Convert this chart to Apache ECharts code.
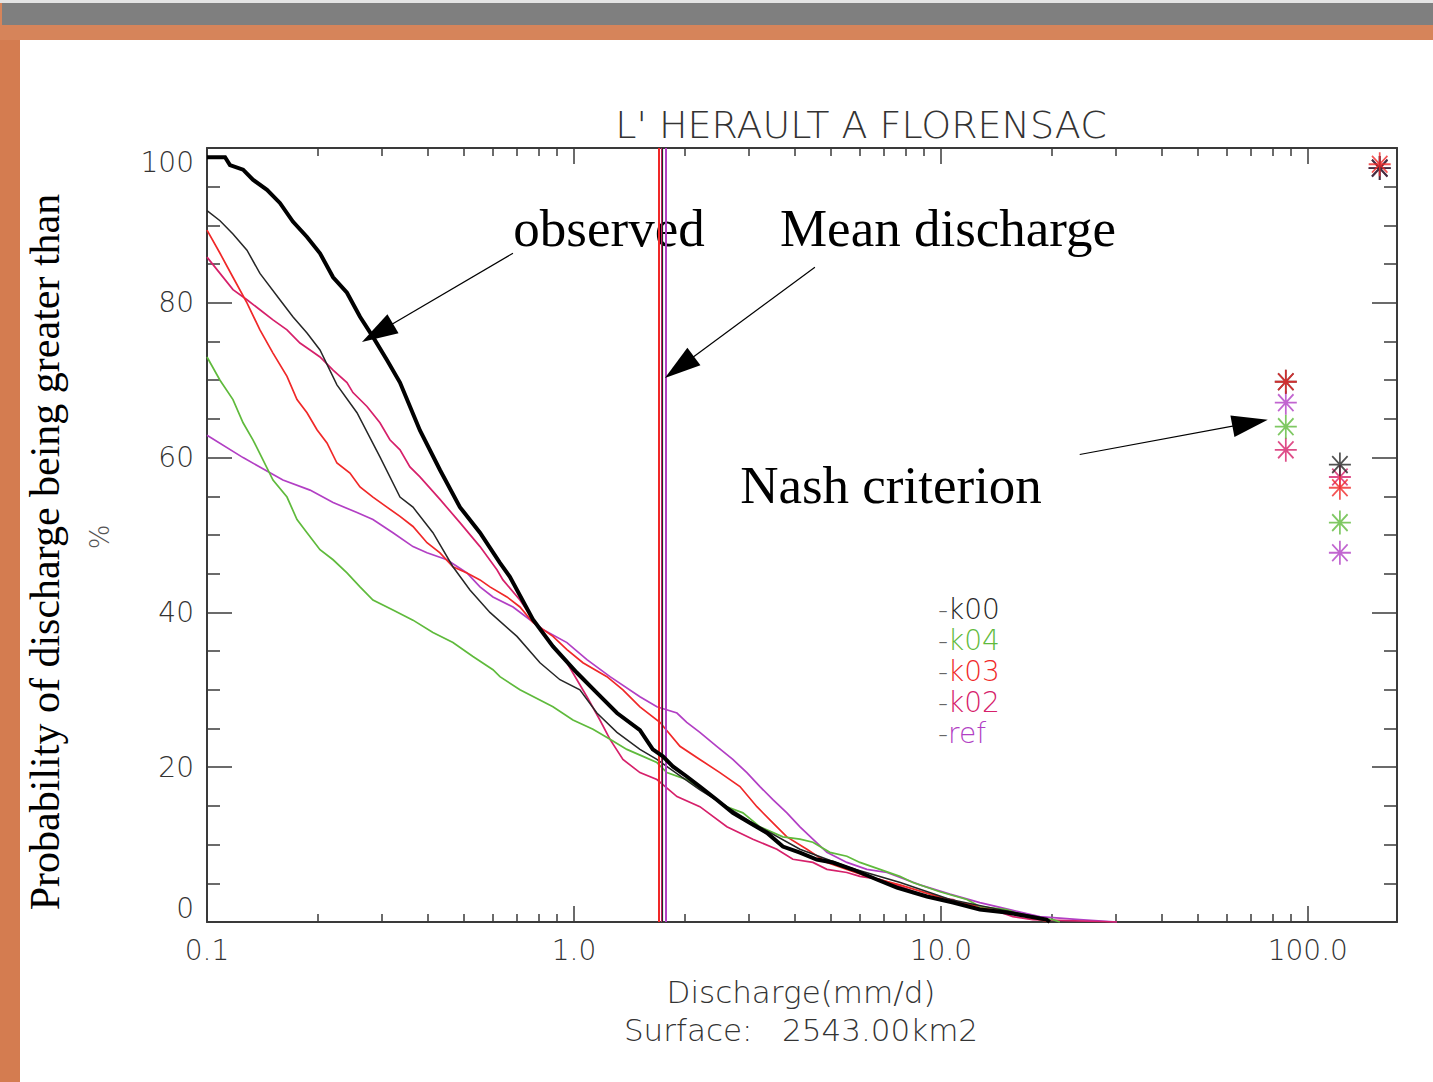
<!DOCTYPE html>
<html><head><meta charset="utf-8">
<script src="https://cdn.jsdelivr.net/npm/echarts@6/dist/echarts.min.js"></script>
<style>html,body{margin:0;padding:0;background:#fff}#main{width:1433px;height:1082px}</style>
</head><body><div id="main"></div><script>
// ---------- data (discharge in mm/d, probability in %) ----------
const obsQ = [0.1,0.112,0.1155,0.1254,0.1334,0.1457,0.158,0.1714,0.1873,0.2032,0.2206,0.2407,0.2612,0.2833,0.3093,0.3357,0.3805,0.4315,0.489,0.5546,0.6285,0.669,0.773,0.8766,1.019,1.155,1.31,1.513,1.64,1.747,1.86,2.03,2.204,2.45,2.71,3.02,3.36,3.71,4.13,4.59,5.08,5.76,6.69,7.59,9.16,10.8,12.77,15.1,19.4,19.8];
const obsP = [98.8,98.8,97.8,97.2,95.9,94.6,92.9,90.5,88.5,86.4,83.3,81.3,78.2,75.6,72.6,69.7,63.5,58.4,53.6,50.3,46.4,44.6,39.1,35.6,32.2,29.6,27.0,24.8,22.3,21.4,20.1,18.8,17.5,15.8,14.1,12.8,11.5,9.75,8.97,8.07,7.68,6.78,5.49,4.45,3.29,2.52,1.61,1.23,0.32,0];

const k00Q = [0.1,0.1085,0.1177,0.1285,0.1394,0.158,0.1714,0.1873,0.2032,0.226,0.2563,0.296,0.3357,0.3642,0.4128,0.468,0.5207,0.5903,0.6994,0.808,0.916,1.038,1.155,1.31,1.513,1.683,2.2,3.02,4.13,5.65,7.75,10.6,14.5,18.6,19.8];
const k00P = [91.9,90.6,88.9,86.8,83.8,80.4,78.2,76.1,73.9,69.4,65.8,60.1,54.9,53.6,50.3,45.9,42.9,40.0,36.9,33.5,31.3,30.0,27.0,24.5,22.3,21.0,17.1,13.0,9.4,7.0,5.1,2.9,1.6,0.6,0];

const k04Q = [0.1,0.1085,0.1177,0.1254,0.1334,0.1421,0.1513,0.1652,0.1759,0.1873,0.2032,0.2206,0.2407,0.2612,0.2833,0.3212,0.3642,0.4128,0.468,0.5306,0.6016,0.6285,0.7126,0.8766,0.9937,1.127,1.254,1.394,1.542,1.683,1.792,2.03,2.303,2.611,2.887,3.213,3.71,4.13,4.479,4.983,5.544,6.016,6.82,7.73,8.39,9.94,11.77,12.77,15.1,17.15,20.2,21.1];
const k04P = [73.0,70.0,67.5,64.5,62.3,59.7,57.1,54.9,52.0,50.3,48.1,46.8,45.1,43.3,41.6,40.3,39.0,37.4,36.1,34.3,32.6,31.7,30.0,27.8,26.1,24.9,23.6,22.3,21.4,20.6,19.3,18.4,16.7,14.9,14.1,12.3,11.0,10.7,10.3,9.0,8.5,7.7,6.8,5.9,5.1,3.9,2.9,2.0,1.6,0.7,0.3,0];

const k03Q = [0.1,0.1085,0.1177,0.1285,0.1394,0.1513,0.1652,0.1759,0.1873,0.1994,0.2123,0.226,0.2452,0.2612,0.2833,0.3093,0.3357,0.3642,0.3977,0.4315,0.468,0.511,0.5546,0.5903,0.6567,0.7126,0.773,0.8766,0.957,1.058,1.23,1.36,1.513,1.715,1.945,2.204,2.499,2.834,3.152,3.485,3.805,4.314,4.891,5.544,6.286,7.73,9.33,11.27,14.5,18.6,19.8];
const k03P = [89.4,86.4,83.3,80.0,76.5,73.5,70.5,67.5,65.8,63.6,61.9,59.3,58.0,56.2,54.9,53.6,52.4,51.1,49.0,47.7,45.9,45.1,44.2,43.3,42.0,40.7,38.7,36.9,35.2,33.5,31.7,30.0,27.8,25.8,22.7,21.0,19.3,17.5,14.9,12.8,11.0,9.4,7.7,6.8,5.9,4.8,3.6,2.5,1.5,0.3,0];

const k02Q = [0.1,0.1085,0.1177,0.1285,0.1394,0.1513,0.1652,0.1792,0.1909,0.2032,0.2206,0.2407,0.2499,0.2729,0.296,0.3151,0.3357,0.3573,0.3805,0.4315,0.489,0.5546,0.6168,0.6405,0.7126,0.808,0.957,1.085,1.177,1.254,1.36,1.513,1.683,1.909,2.204,2.611,3.074,3.573,3.951,4.479,4.891,5.544,6.016,6.82,7.73,9.16,10.8,11.77,13.86,15.71,17.81,30.2];
const k02P = [85.9,83.8,81.7,80.4,79.1,77.8,76.5,74.8,73.9,73.0,71.3,69.7,68.4,66.6,64.5,62.3,61.0,58.8,57.5,54.6,51.6,48.5,45.5,44.2,41.6,37.8,33.5,29.1,26.1,23.6,21.0,19.3,18.4,16.2,14.9,12.3,10.7,9.4,8.1,7.7,6.8,6.4,5.9,5.5,4.6,3.3,2.9,2.0,1.6,0.7,0.3,0];

const refQ = [0.1,0.1254,0.161,0.1909,0.2206,0.2563,0.2833,0.3212,0.3642,0.3977,0.4508,0.511,0.5546,0.6016,0.6823,0.823,0.957,1.085,1.254,1.513,1.683,1.909,2.03,2.204,2.45,2.71,2.96,3.213,3.485,3.805,4.13,4.479,4.891,5.544,6.286,7.13,8.77,10.58,12.77,15.4,18.6,23.9,30.2];
const refP = [62.9,60.0,57.1,55.8,54.2,52.9,52.0,50.3,48.5,47.7,46.8,45.1,43.3,42.0,40.7,37.8,36.1,33.9,31.7,29.1,27.8,27.0,25.8,24.5,22.7,21.0,19.3,17.5,15.8,14.1,12.3,10.7,9.0,7.7,6.8,6.4,4.8,3.6,2.5,1.6,0.7,0.3,0];

// mean discharge (vertical lines)
const meanNames = ['k03','k02','k00','ref'];
const meanQ = [1.708,1.722,1.755,1.792];

// Nash criterion markers: three columns
const nashQ = [87.1,122.3,157];
const nashK00 = [69.8,59.1,97.4];
const nashK04 = [64.0,51.6,97.4];
const nashK03 = [69.8,56.1,97.9];
const nashK02 = [61.0,57.5,97.4];
const nashRef = [67.1,47.7,97.4];

// axis ticks
const xMajor = [0.1,1,10,100];
const xMinor = [0.2,0.3,0.4,0.5,0.6,0.7,0.8,0.9,2,3,4,5,6,7,8,9,20,30,40,50,60,70,80,90];
const xMax = 175;

// annotation arrows: [fromQ, fromP, tipQ, tipP]
const arrowObserved = [0.682,86.4,0.2644,74.95];
const arrowMean = [4.536,84.6,1.770,70.3];
const arrowNash = [23.9,60.4,77.8,64.9];

// ---------- build ----------
const L = Math.log10;
const COLORS = {obs:'#000000', k00:'#262626', k04:'#5fba3c', k03:'#f02828', k02:'#d6206a', ref:'#b23fc4'};
const AX = '#3a3a3a';
const HFONT = '"DejaVu Sans"';
const LABEL_FONT = {fontFamily:HFONT, fontWeight:200, fontSize:28, color:'#333'};

function pts(q,p){ return q.map((v,i)=>[L(v), p[i]]); }

function xAxis(pos, ticks, len, showLine, showLabel){
  return {
    type:'value', position:pos, min:-1, max:L(xMax), gridIndex:0,
    axisLine:{show:showLine, onZero:false, lineStyle:{color:AX, width:2}},
    axisTick:{show:true, inside:true, length:len, customValues:ticks.map(L), lineStyle:{color:AX, width:1.5}},
    axisLabel:Object.assign({show:showLabel, customValues:ticks.map(L), margin:14,
      formatter:v=>Math.pow(10,v).toFixed(1)}, LABEL_FONT),
    splitLine:{show:false}, minorTick:{show:false}
  };
}
function yAxis(pos, showLabel){
  return {
    type:'value', position:pos, min:0, max:100, interval:20, gridIndex:0,
    axisLine:{show:true, onZero:false, lineStyle:{color:AX, width:2}},
    axisTick:{show:true, inside:true, length:25, lineStyle:{color:AX, width:1.5}},
    minorTick:{show:true, splitNumber:4, length:13, lineStyle:{color:AX, width:1.5}},
    axisLabel:Object.assign({show:showLabel, margin:13, verticalAlignMinLabel:'bottom', verticalAlignMaxLabel:'top'}, LABEL_FONT),
    splitLine:{show:false}
  };
}

function meanLine(name){
  const i = meanNames.indexOf(name);
  if (i < 0) return undefined;
  return {silent:true, symbol:['none','none'], label:{show:false},
    lineStyle:{type:'solid', width:name==='k00'?1.2:2, color:COLORS[name]},
    data:[{xAxis:L(meanQ[i])}]};
}

function curve(name, q, p, width){
  return {name, type:'line', xAxisIndex:0, yAxisIndex:0, data:pts(q,p),
    showSymbol:false, symbol:'none', animation:false,
    lineStyle:{color:COLORS[name], width:width, join:'miter'}, itemStyle:{color:COLORS[name]},
    markLine:meanLine(name), z:name==='obs'?5:3};
}

const ASTER = 'path://M10,0L10,20M0,10L20,10M3,3L17,17M3,17L17,3';
function nash(name, vals){
  return {name:name+' nash', type:'scatter', xAxisIndex:0, yAxisIndex:0,
    data:nashQ.map((q,i)=>[L(q), vals[i]]), symbol:ASTER, symbolSize:[22,24],
    itemStyle:{color:COLORS[name], borderColor:COLORS[name], borderWidth:1.8}, animation:false, z:6};
}

const series = [
  curve('ref', refQ, refP, 1.7),
  curve('k02', k02Q, k02P, 1.7),
  curve('k03', k03Q, k03P, 1.7),
  curve('k04', k04Q, k04P, 1.7),
  curve('k00', k00Q, k00P, 1.5),
  curve('obs', obsQ, obsP, 4),
  nash('k02', nashK02), nash('k04', nashK04), nash('ref', nashRef), nash('k00', nashK00), nash('k03', nashK03),
  {name:'arrows', type:'line', data:[], xAxisIndex:0, yAxisIndex:0, animation:false,
   markLine:{silent:true, symbol:['none','triangle'], symbolSize:[22,36], label:{show:false},
     lineStyle:{type:'solid', color:'#000', width:1.2}, itemStyle:{color:'#000'}, data:[]}}
];

const legendItems = [['k00',609],['k04',640],['k03',671],['k02',702],['ref',733]];

function txt(x, y, text, font, fill, rot){
  const e = {type:'text', x:x, y:y, silent:true, style:{text:text, font:font, fill:fill,
    align:'center', verticalAlign:'middle', textAlign:'center', textVerticalAlign:'middle'}};
  if (rot) e.rotation = rot;
  return e;
}

const graphic = [
  {type:'rect', shape:{x:0,y:0,width:1433,height:3}, style:{fill:'#e4e4e4'}, silent:true},
  {type:'rect', shape:{x:2,y:3,width:1431,height:22}, style:{fill:'#7f7f7f'}, silent:true},
  {type:'rect', shape:{x:0,y:3,width:2,height:22}, style:{fill:'#d6845a'}, silent:true},
  {type:'rect', shape:{x:0,y:25,width:1433,height:15}, style:{fill:'#d6845a'}, silent:true},
  {type:'rect', shape:{x:0,y:40,width:20,height:1042}, style:{fill:'#d47c50'}, silent:true},
  txt(861, 125, "L' HERAULT A FLORENSAC", '200 38px '+HFONT, '#333'),
  txt(801, 992, 'Discharge(mm/d)', '200 31px '+HFONT, '#333'),
  txt(801, 1030, 'Surface:   2543.00km2', '200 31px '+HFONT, '#333'),
  txt(100, 537, '%', '200 26px '+HFONT, '#555', Math.PI/2),
  txt(45, 552, 'Probability of discharge being greater than', '42px "Liberation Serif"', '#000', Math.PI/2),
  txt(609, 228, 'observed', '53px "Liberation Serif"', '#000'),
  txt(948, 228, 'Mean discharge', '53px "Liberation Serif"', '#000'),
  txt(891, 485, 'Nash criterion', '53px "Liberation Serif"', '#000')
].concat(legendItems.map(([n,y])=>({type:'text', x:938, y:y, silent:true,
  style:{text:'{d|-}{n|'+n+'}', align:'left', verticalAlign:'middle', textAlign:'left', textVerticalAlign:'middle',
    rich:{d:{fontFamily:HFONT, fontWeight:200, fontSize:28, fill:'#666', color:'#666'},
          n:{fontFamily:HFONT, fontWeight:200, fontSize:28, fill:COLORS[n], color:COLORS[n]}}}})));

const option = {
  backgroundColor:'#ffffff',
  animation:false,
  grid:{left:207, right:36, top:148, bottom:160, containLabel:false},
  xAxis:[xAxis('bottom', xMajor, 16, true, true), xAxis('bottom', xMinor, 8, false, false),
         xAxis('top', xMajor, 16, true, false), xAxis('top', xMinor, 8, false, false)],
  yAxis:[yAxis('left', true), yAxis('right', false)],
  series:series,
  graphic:graphic
};

const chart = echarts.init(document.getElementById('main'), null, {renderer:'svg'});
chart.setOption(option);

// arrows: place the triangle so that its tip lands on the tip point
function arrowData(a){
  const from = [L(a[0]), a[1]], tip = [L(a[2]), a[3]];
  const pa = chart.convertToPixel({gridIndex:0}, from);
  const pb = chart.convertToPixel({gridIndex:0}, tip);
  const dx = pb[0]-pa[0], dy = pb[1]-pa[1], len = Math.hypot(dx,dy);
  const c = [pb[0]-dx/len*18, pb[1]-dy/len*18];
  const cd = chart.convertFromPixel({gridIndex:0}, c);
  return [{coord:from}, {coord:cd}];
}
chart.setOption({series:[{name:'arrows', markLine:{data:[arrowData(arrowObserved), arrowData(arrowMean), arrowData(arrowNash)]}}]});
</script></body></html>
